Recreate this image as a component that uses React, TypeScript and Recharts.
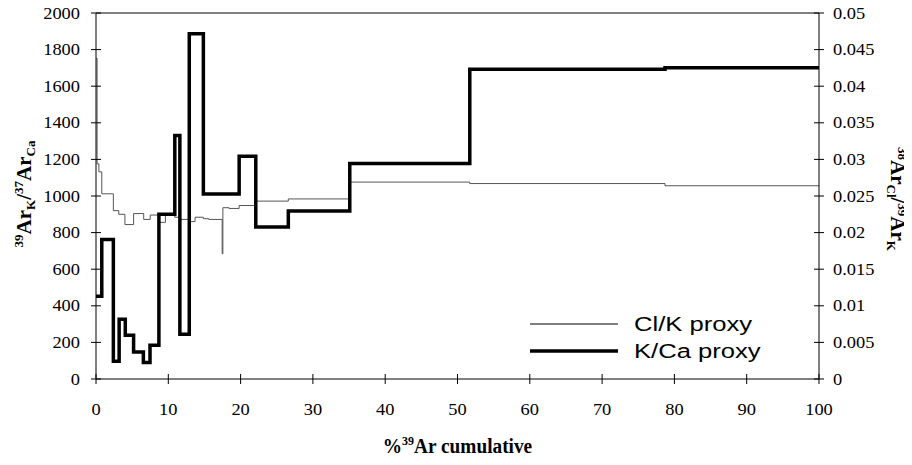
import React from 'react';
import { LineChart, Line, XAxis, YAxis, ReferenceLine, Legend } from 'recharts';

// ---- data ----
const kcaX = [0, 0.8, 2.4, 3.2, 4.05, 5.2, 6.55, 7.47, 8.7, 10.9, 11.6, 12.9, 14.85, 19.8, 22.1, 26.6, 35.1, 51.7, 78.7, 100];
const kcaY = [452, 762, 97, 326, 239, 148, 90, 184, 900, 1330, 244, 1887, 1011, 1217, 830, 918, 1177, 1692, 1701, 1701];

const clkX = [0, 0.15, 0.4, 0.8, 2.4, 3.15, 4.0, 5.2, 6.6, 7.5, 8.7, 9.6, 10.9, 11.6, 13.0, 13.7, 14.85, 15.6, 17.45, 17.55, 18.4, 19.8, 22.1, 26.6, 35.1, 51.7, 78.7, 100];
const clkY = [0.0438, 0.0294, 0.0283, 0.0253, 0.023, 0.0225, 0.0211, 0.0226, 0.0218, 0.0224, 0.0214, 0.0224, 0.0221, 0.0218, 0.0215, 0.0221, 0.0219, 0.0218, 0.0171, 0.0234, 0.0233, 0.0237, 0.0243, 0.0246, 0.0269, 0.0267, 0.0264, 0.0264];

const xTicks = [0, 10, 20, 30, 40, 50, 60, 70, 80, 90, 100];
const leftTicks = [0, 200, 400, 600, 800, 1000, 1200, 1400, 1600, 1800, 2000];
const rightTicks = [0, 0.005, 0.01, 0.015, 0.02, 0.025, 0.03, 0.035, 0.04, 0.045, 0.05];

const seriesNames = { clk: 'Cl/K proxy', kca: 'K/Ca proxy' };

const kcaData = kcaX.map((x, i) => ({ x, kca: kcaY[i] }));
const clkData = clkX.map((x, i) => ({ x, clk: clkY[i] }));

// ---- styles ----
const SERIF = '"Liberation Serif", Tinos, "Times New Roman", serif';
const SANS = '"Liberation Sans", Arial, sans-serif';
const SX = 1.15;
const TICK_FS = 16;
const LAB_FS = 21;
const SUB_FS = 13;

const serifStyle = { fontFamily: SERIF } as React.CSSProperties;

function LeftTick(props: any) {
  const { x, y, payload } = props;
  return (
    <g>
      <line x1={x - 5} x2={x + 5} y1={y} y2={y} stroke="#000" strokeWidth={1} />
      <text transform={`translate(${x - 16},${y}) scale(${SX},1)`} textAnchor="end" dy="0.35em"
        style={serifStyle} fontSize={TICK_FS} fill="#000">{payload.value}</text>
    </g>
  );
}

function RightTick(props: any) {
  const { x, y, payload } = props;
  return (
    <g>
      <line x1={x - 5} x2={x + 5} y1={y} y2={y} stroke="#000" strokeWidth={1} />
      <text transform={`translate(${x + 14},${y}) scale(${SX},1)`} textAnchor="start" dy="0.35em"
        style={serifStyle} fontSize={TICK_FS} fill="#000">{String(payload.value)}</text>
    </g>
  );
}

function BottomTick(props: any) {
  const { x, y, payload } = props;
  return (
    <g>
      <line x1={x} x2={x} y1={y - 5} y2={y + 5} stroke="#000" strokeWidth={1} />
      <text transform={`translate(${x},${y + 30}) scale(${SX},1)`} textAnchor="middle" dy="0.35em"
        style={serifStyle} fontSize={TICK_FS} fill="#000">{payload.value}</text>
    </g>
  );
}

function XLabel(props: any) {
  const vb = props.viewBox || {};
  const cx = vb.x + vb.width / 2;
  const y = vb.y + 74;
  return (
    <text transform={`translate(${cx},${y}) scale(0.92,1)`} textAnchor="middle" style={serifStyle}
      fontSize={LAB_FS} fontWeight="bold" fill="#000">
      <tspan>%</tspan>
      <tspan fontSize={SUB_FS} dy={-8}>39</tspan>
      <tspan dy={8}>Ar cumulative</tspan>
    </text>
  );
}

function LeftLabel(props: any) {
  const vb = props.viewBox || {};
  const cy = vb.y + vb.height / 2 - 2;
  const x = 31;
  return (
    <text transform={`translate(${x},${cy}) rotate(-90)`} textAnchor="middle"
      style={serifStyle} fontSize={LAB_FS} fontWeight="bold" fill="#000">
      <tspan fontSize={SUB_FS} dy={-8}>39</tspan>
      <tspan dy={8}>Ar</tspan>
      <tspan fontSize={SUB_FS} dy={4}>K</tspan>
      <tspan dy={-4}>/</tspan>
      <tspan fontSize={SUB_FS} dy={-8}>37</tspan>
      <tspan dy={8}>Ar</tspan>
      <tspan fontSize={SUB_FS} dy={4}>Ca</tspan>
    </text>
  );
}

function RightLabel(props: any) {
  const vb = props.viewBox || {};
  const cy = vb.y + vb.height / 2 + 3;
  const x = 891;
  return (
    <text transform={`translate(${x},${cy}) rotate(90)`} textAnchor="middle"
      style={serifStyle} fontSize={LAB_FS} fontWeight="bold" fill="#000">
      <tspan fontSize={SUB_FS} dy={-7}>38</tspan>
      <tspan dy={7}>Ar</tspan>
      <tspan fontSize={SUB_FS} dy={4}>Cl</tspan>
      <tspan dy={-4}>/</tspan>
      <tspan fontSize={SUB_FS} dy={-7}>39</tspan>
      <tspan dy={7}>Ar</tspan>
      <tspan fontSize={SUB_FS} dy={4}>K</tspan>
    </text>
  );
}

function LegendContent(props: any) {
  const items = props.payload || [];
  return (
    <div style={{ display: 'flex', flexDirection: 'column' }}>
      {items.map((it: any) => (
        <div key={it.value} style={{ display: 'flex', alignItems: 'center', height: 27 }}>
          <svg width={88} height={10} style={{ display: 'block' }}>
            <line x1={0} x2={88} y1={5} y2={5} stroke="#000" strokeWidth={it.payload?.strokeWidth || 1} />
          </svg>
          <span style={{ marginLeft: 16, fontFamily: SANS, fontSize: 20, lineHeight: '20px', color: '#000', display: 'inline-block', transform: `scaleX(1.28)`, transformOrigin: 'left center', whiteSpace: 'nowrap' }}>{it.value}</span>
        </div>
      ))}
    </div>
  );
}

export default function App() {
  return (
    <div style={{ marginLeft: -8, marginTop: -8, width: 912, height: 465 }}>
      <LineChart width={912} height={465} margin={{ top: 13, right: 0, bottom: 0, left: 0 }}>
        <XAxis type="number" dataKey="x" domain={[0, 100]} ticks={xTicks} allowDataOverflow
          tickSize={0} tickMargin={0} tick={<BottomTick />} height={86}
          axisLine={{ stroke: '#000', strokeWidth: 1 }} tickLine={false} label={<XLabel />} interval={0} />
        <YAxis yAxisId="left" type="number" domain={[0, 2000]} ticks={leftTicks} width={96}
          tickSize={0} tickMargin={0} tick={<LeftTick />} axisLine={{ stroke: '#000', strokeWidth: 1 }}
          tickLine={false} label={<LeftLabel />} interval={0} />
        <YAxis yAxisId="right" orientation="right" type="number" domain={[0, 0.05]} ticks={rightTicks} width={93}
          tickSize={0} tickMargin={0} tick={<RightTick />} axisLine={{ stroke: '#000', strokeWidth: 1 }}
          tickLine={false} label={<RightLabel />} interval={0} />
        <ReferenceLine yAxisId="left" y={2000} stroke="#000" strokeWidth={1} />
        <Line yAxisId="right" data={clkData} dataKey="clk" name={seriesNames.clk} type="stepAfter"
          stroke="#555" strokeWidth={1} dot={false} isAnimationActive={false} legendType="line" />
        <Line yAxisId="left" data={kcaData} dataKey="kca" name={seriesNames.kca} type="stepAfter"
          stroke="#000" strokeWidth={3.5} dot={false} isAnimationActive={false} legendType="line" />
        <Legend layout="horizontal" verticalAlign="middle" align="center" content={<LegendContent />}
          wrapperStyle={{ left: 530, top: 310, width: 280 }} />
      </LineChart>
    </div>
  );
}
